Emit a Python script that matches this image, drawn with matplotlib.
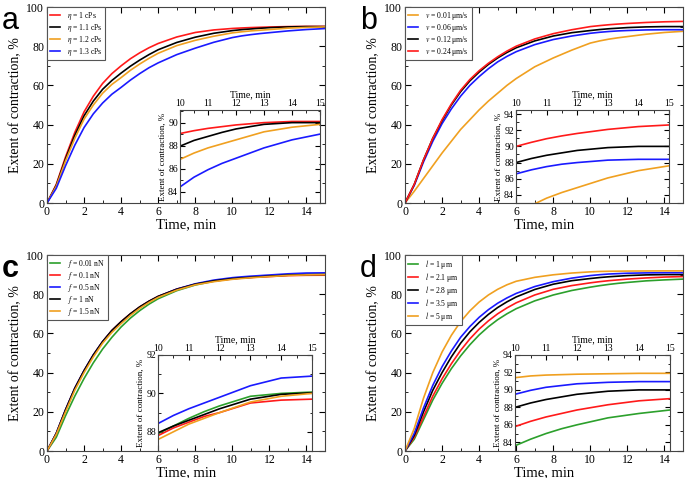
import numpy as np
import matplotlib
matplotlib.use('Agg')
import matplotlib.pyplot as plt
from matplotlib.ticker import MultipleLocator

plt.rcParams['font.family'] = 'Liberation Serif'
plt.rcParams['mathtext.fontset'] = 'stix'

W, H = 685, 478

# time grid, min
t = [0, 0.5, 1, 1.5, 2, 2.5, 3, 3.5, 4, 4.5, 5, 5.5, 6, 7, 8, 9, 10, 10.5, 11, 11.5, 12, 13, 14, 15]

# panel a : viscosity
a_labels = [r'$\eta$ = 1 cPs', r'$\eta$ = 1.1 cPs', r'$\eta$ = 1.2 cPs', r'$\eta$ = 1.3 cPs']
a_red = [0, 9.5, 23.5, 36, 46.5, 54.5, 61, 66, 70, 73.6, 76.6, 79.2, 81.4, 84.7, 87, 88.3, 89.05, 89.3, 89.5, 89.65, 89.8, 90.0, 90.1, 90.1]
a_black = [0, 9, 22.5, 34.5, 44.5, 52, 58, 62.5, 66.3, 69.8, 72.9, 75.7, 78.2, 81.9, 84.6, 86.6, 87.95, 88.45, 88.8, 89.15, 89.45, 89.85, 90.0, 90.0]
a_orange = [0, 8.5, 21.5, 33, 42.8, 50, 56, 60.5, 64, 67.7, 70.9, 73.8, 76.4, 80.3, 83, 85.1, 86.8, 87.35, 87.8, 88.15, 88.5, 89.2, 89.6, 89.85]
a_blue = [0, 7.5, 19, 29.5, 38.5, 45.5, 51, 55.5, 59, 62.7, 66, 69, 71.5, 75.7, 79, 82, 84.4, 85.25, 85.9, 86.45, 86.9, 87.8, 88.5, 89.0]

# panel b : velocity
b_labels = [r'$v$ = 0.01 μm/s', r'$v$ = 0.06 μm/s', r'$v$ = 0.12 μm/s', r'$v$ = 0.24 μm/s']
b_orange = [0, 6, 12.5, 19, 25.5, 31.5, 37.5, 42.5, 47.5, 52, 56, 60, 63.5, 69.5, 74, 78, 81.6, 82.7, 83.6, 84.3, 84.9, 86.1, 87.0, 87.6]
b_blue = [0, 9, 21, 31.5, 40.5, 48, 54.5, 60, 64.5, 68.5, 72, 74.8, 77.2, 80.8, 83.4, 85.2, 86.6, 87.1, 87.5, 87.8, 88.0, 88.3, 88.4, 88.4]
b_black = [0, 9.5, 22, 33, 42, 50, 56.8, 62.3, 66.8, 70.7, 74, 76.8, 79.2, 82.7, 85.2, 86.9, 88.0, 88.5, 88.9, 89.2, 89.5, 89.85, 90.0, 90.0]
b_red = [0, 9.5, 22, 33, 42.5, 50.5, 57.5, 63, 67.5, 71.3, 74.6, 77.5, 80, 83.7, 86.4, 88.4, 90.0, 90.5, 90.95, 91.3, 91.6, 92.1, 92.45, 92.65]

# panel c : force
c_labels = [r'$f$ = 0.01 nN', r'$f$ = 0.1 nN', r'$f$ = 0.5 nN', r'$f$ = 1 nN', r'$f$ = 1.5 nN']
c_green = [0, 7, 18, 28, 37, 45, 52, 58, 63.3, 67.8, 71.6, 74.9, 77.7, 81.8, 84.7, 86.6, 87.9, 88.3, 88.7, 89.05, 89.35, 89.85, 90.0, 90.07]
c_red = [0, 9, 21, 32, 41, 49, 55.8, 61.5, 66, 70, 73.5, 76.4, 78.9, 82.6, 85.1, 86.7, 87.8, 88.2, 88.5, 88.8, 89.0, 89.5, 89.65, 89.7]
c_blue = [0, 9, 21, 32, 41, 49, 55.8, 61.3, 65.8, 69.8, 73.3, 76.3, 78.8, 82.6, 85.3, 87.2, 88.43, 88.85, 89.2, 89.5, 89.8, 90.4, 90.8, 90.9]
c_black = [0, 9, 21, 32, 41, 49, 55.8, 61.5, 66, 70, 73.5, 76.4, 78.9, 82.5, 85.1, 86.8, 87.95, 88.3, 88.6, 88.9, 89.2, 89.7, 89.95, 90.03]
c_orange = [0, 8.5, 20, 31, 40, 48, 55, 60.5, 65, 69.2, 72.8, 75.8, 78.4, 82.1, 84.8, 86.4, 87.6, 88.0, 88.4, 88.7, 89.0, 89.55, 89.85, 90.0]

# panel d : length
d_labels = [r'$l$ = 1 μm', r'$l$ = 2.1 μm', r'$l$ = 2.8 μm', r'$l$ = 3.5 μm', r'$l$ = 5 μm']
d_green = [0, 6, 16, 26, 34.5, 42, 48.5, 54.2, 59.2, 63.4, 67, 70, 72.6, 76.6, 79.6, 81.9, 83.6, 84.35, 85.0, 85.55, 86.0, 86.8, 87.3, 87.7]
d_red = [0, 7, 17.5, 28, 36.8, 44.5, 51.3, 57.2, 62.2, 66.4, 70, 73, 75.6, 79.6, 82.5, 84.4, 85.8, 86.4, 86.9, 87.3, 87.7, 88.3, 88.75, 89.0]
d_black = [0, 8, 20, 31, 40, 48, 55, 60.8, 65.6, 69.7, 73.2, 76.1, 78.6, 82.4, 85.1, 86.9, 88.0, 88.5, 88.9, 89.2, 89.5, 89.85, 90.0, 90.0]
d_blue = [0, 9, 22, 33.5, 43, 51, 58, 63.5, 68.2, 72.1, 75.4, 78.1, 80.4, 83.9, 86.4, 88.2, 89.5, 89.95, 90.3, 90.5, 90.7, 90.87, 90.95, 90.95]
d_orange = [0, 11.5, 27, 40, 50.5, 59, 66, 71.5, 76, 79.6, 82.5, 84.8, 86.6, 88.6, 89.9, 90.8, 91.4, 91.6, 91.7, 91.75, 91.8, 91.85, 91.9, 91.9]

RED, BLACK, ORANGE, BLUE, GREEN = '#ff1a1a', 'black', '#f0a020', '#1a1aff', '#2ca02c'

panels = [
    ('a', (47, 7, 325, 203), (180, 110, 320, 203), (83, 91.1), [a_red, a_black, a_orange, a_blue], [RED, BLACK, ORANGE, BLUE], a_labels, False),
    ('b', (405, 7, 683, 203), (516, 110, 669, 203), (83, 94.5), [b_orange, b_blue, b_black, b_red], [ORANGE, BLUE, BLACK, RED], b_labels, False),
    ('c', (47, 255, 325, 451), (158, 355, 312, 451), (87, 92), [c_green, c_red, c_blue, c_black, c_orange], [GREEN, RED, BLUE, BLACK, ORANGE], c_labels, True),
    ('d', (405, 255, 683, 451), (515, 355, 670, 451), (83, 94), [d_green, d_red, d_black, d_blue, d_orange], [GREEN, RED, BLACK, BLUE, ORANGE], d_labels, False),
]


def rect(l, tp, r, b):
    return [l / W, 1 - b / H, (r - l) / W, (b - tp) / H]


fig = plt.figure(figsize=(W / 100, H / 100), dpi=100)

for letter, mrect, irect, ilim, series, colors, labels, bold in panels:
    ax = fig.add_axes(rect(*mrect))
    for y, c, lb in zip(series, colors, labels):
        ax.plot(t, y, color=c, lw=1.2, label=lb)
    ax.set_xlim(0, 15)
    ax.set_ylim(0, 100)
    ax.xaxis.set_major_locator(MultipleLocator(2))
    ax.xaxis.set_minor_locator(MultipleLocator(1))
    ax.yaxis.set_major_locator(MultipleLocator(20))
    ax.yaxis.set_minor_locator(MultipleLocator(10))
    ax.tick_params(which='both', direction='in', top=True, right=True, labelsize=8.5, pad=2)
    ax.tick_params(which='major', length=4)
    ax.tick_params(which='minor', length=2)
    ax.set_xlabel('Time, min', fontsize=10.5, labelpad=0)
    ax.set_ylabel('Extent of contraction, %', fontsize=10, labelpad=3)
    leg = ax.legend(loc='upper left', bbox_to_anchor=(0, 1), borderaxespad=0, fontsize=5.5,
                    handlelength=1.4, handletextpad=0.9, labelspacing=0.0, borderpad=0.35,
                    fancybox=False, framealpha=1, edgecolor='#555555')
    leg.get_frame().set_linewidth(0.8)
    for sp in ax.spines.values():
        sp.set_color('#444444')

    x0, y0 = mrect[0], mrect[1]
    fig.text((x0 - 45) / W, 1 - (y0 - 1) / H, letter, fontsize=22, family='Liberation Sans',
             fontweight='bold' if bold else 'normal', va='top', ha='left')

    ins = fig.add_axes(rect(*irect))
    ins.patch.set_alpha(0)
    for y, c in zip(series, colors):
        ins.plot(t, y, color=c, lw=1.2)
    ins.set_xlim(10, 15)
    ins.set_ylim(*ilim)
    ins.xaxis.set_major_locator(MultipleLocator(1))
    ins.xaxis.set_minor_locator(MultipleLocator(0.5))
    ins.yaxis.set_major_locator(MultipleLocator(2))
    ins.yaxis.set_minor_locator(MultipleLocator(1))
    ins.xaxis.tick_top()
    ins.xaxis.set_label_position('top')
    ins.tick_params(which='both', direction='in', right=True, bottom=False, labelsize=7, pad=1.5)
    ins.tick_params(which='major', length=3.5)
    ins.tick_params(which='minor', length=1.8)
    ins.set_xlabel('Time, min', fontsize=7, labelpad=1.5)
    ins.set_ylabel('Extent of contraction, %', fontsize=6.5, labelpad=1)
    for sp in ins.spines.values():
        sp.set_color('#444444')

fig.savefig('out.png', dpi=100)
